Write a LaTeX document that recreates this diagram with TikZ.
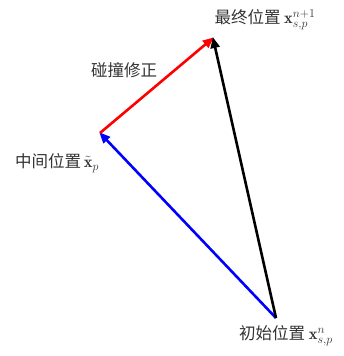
\documentclass[tikz,border=0pt]{standalone}
\usepackage{fontspec}
\usepackage{amsmath}
\newfontfamily\cjk{Noto Sans CJK SC}
\usetikzlibrary{arrows.meta, positioning, calc}
\tikzset{
    lbl/.style={font=\cjk\fontsize{16.5}{19}\selectfont, text=black!80, inner sep=1pt},
    vec/.style={line width=2.6pt, -{Triangle[length=11pt,width=9pt]}, shorten >=-1pt}
}

\begin{document}
\begin{tikzpicture}[x=1pt, y=-1pt]
    \useasboundingbox (0,0) rectangle (343,356);
    % Positions
    \coordinate (start) at (276,318);
    \coordinate (mid) at (100,133);
    \coordinate (final) at (213,38);

    % Labels
    \node (final_lbl) [lbl] at (265,20) {最终位置 $\mathbf{x}_{s,p}^{n+1}$};
    \node (corr_lbl) [lbl] at (124,70) {碰撞修正};
    \node (mid_lbl) [lbl] at (57,163) {中间位置\,$\tilde{\mathbf{x}}_p$};
    \node (start_lbl) [lbl] at (286,336) {初始位置 $\mathbf{x}_{s,p}^{n}$};

    % Vectors
    \draw [vec, blue] (start) -- (mid);
    \draw [vec, red] (mid) -- (final);
    \draw [vec, black] (start) -- (final);
\end{tikzpicture}
\end{document}
